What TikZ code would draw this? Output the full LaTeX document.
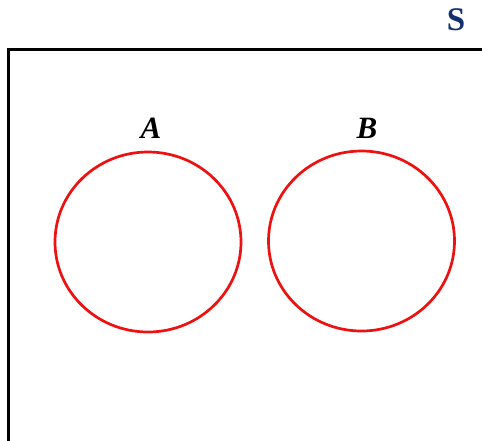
\documentclass[tikz,border=0pt]{standalone}
\usepackage{fontspec}
\setmainfont{Liberation Serif}
\usetikzlibrary{positioning}
\definecolor{setred}{HTML}{EE1111}
\definecolor{setblue}{HTML}{123070}
\tikzset{
  venn/set/.style={draw=setred, line width=2.7pt, ellipse, minimum width=186pt, minimum height=180pt, inner sep=0pt},
  venn/label/.style={font=\fontsize{31}{33}\selectfont\bfseries\itshape, inner sep=0pt},
  venn/univ/.style={font=\fontsize{33}{35}\selectfont\bfseries, text=setblue, inner sep=0pt},
  venn/frame/.style={line width=3pt}
}
\usetikzlibrary{shapes.geometric}
\begin{document}
\begin{tikzpicture}[x=1pt,y=-1pt]
  \useasboundingbox (0,0) rectangle (482,440);
  \clip (0,0) rectangle (482,440);
  % universe
  \coordinate (sw) at (8,460);
  \coordinate (ne) at (500,49);
  \draw[venn/frame] (sw) |- (ne);
  \node[venn/univ] (univ) at (456,20) {S};
  % the two sets
  \node[venn/set] (setA) at (148,242) {};
  \node[venn/set] (setB) at (361.5,241) {};
  \node[venn/label] (labA) at (151,128) {A};
  \node[venn/label] (labB) at (367,128) {B};
\end{tikzpicture}
\end{document}
